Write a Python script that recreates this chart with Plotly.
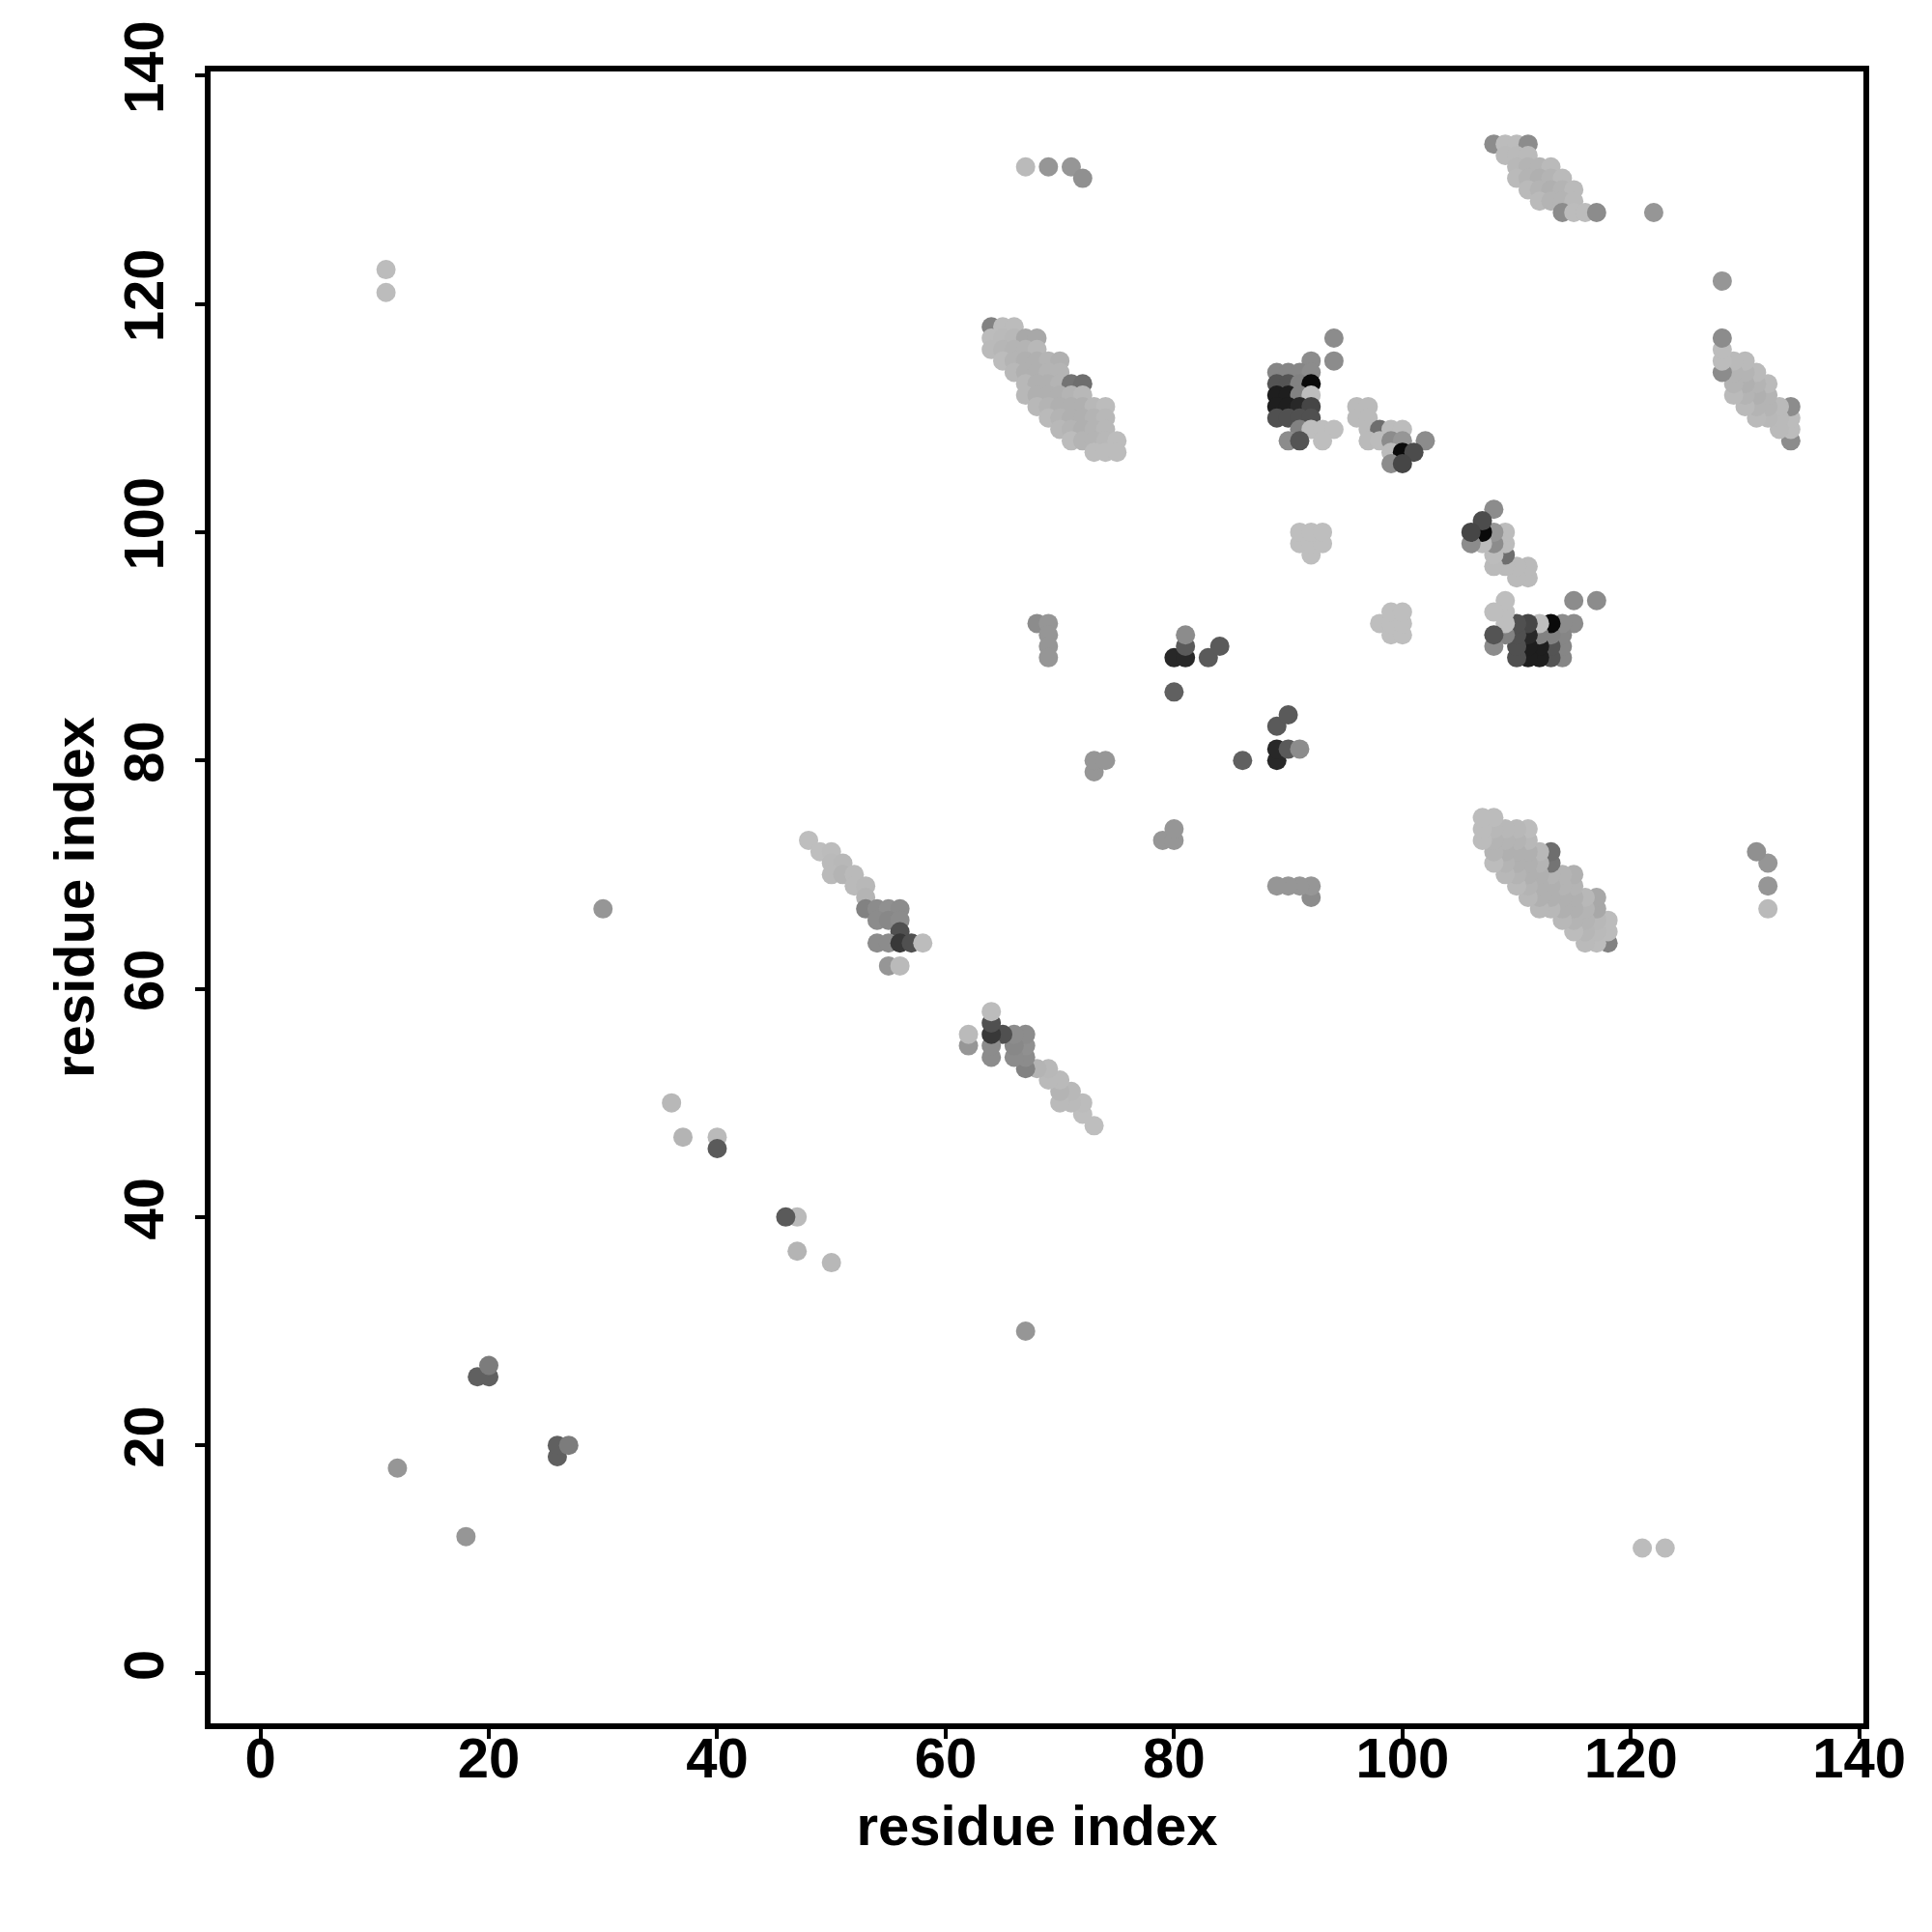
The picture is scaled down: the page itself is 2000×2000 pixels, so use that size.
import plotly.graph_objects as go

# Upper-triangle contacts (residue i < residue j); the map is symmetric.
res_i = [
    11, 11, 12, 19, 20, 20, 30, 36, 37, 40, 40,
    67, 69, 71, 72, 122,
    68, 69, 69, 69, 69,
    73, 73, 74,
    80, 80, 81, 81, 81, 83, 84,
    # cluster 48-58 / 62-73
    48, 49, 50, 50, 51, 50, 51, 52, 52, 53, 53,
    53, 54, 55, 56, 54, 55, 56, 56, 54, 55, 56, 57, 58, 55, 56,
    # cluster 64-75 / 107-118
    64, 65, 66,
    64, 65, 66, 67, 68,
    64, 65, 66, 67, 68,
    65, 66, 67, 68, 69, 70,
    66, 67, 68, 69, 70,
    67, 68, 69, 70, 71, 72,
    67, 68, 69, 70, 71, 72,
    68, 69, 70, 71, 72, 73, 74,
    69, 70, 71, 72, 73, 74,
    70, 71, 72, 73, 74,
    71, 72, 73, 74, 75,
    73, 74, 75,
    # cluster 89-94 / 107-117
    94, 92, 94,
    89, 90, 91, 92,
    89, 90, 91, 92,
    89, 90, 91, 92,
    89, 90, 91, 92,
    89, 90, 91, 92,
    91, 92, 93, 94,
    90, 91, 93,
    # cluster 96-102 / 106-111
    96, 97, 96, 97,
    97, 98, 99, 100,
    97, 98, 99, 100, 102,
    99, 100, 101,
    99, 100,
    # cluster 91-93 / 98-100
    92, 91, 92, 93, 91, 92, 93,
    # cluster 108-117 / 128-134
    108, 109, 110, 111,
    109, 110, 111,
    110, 111, 112, 113,
    110, 111, 112, 113, 114,
    111, 112, 113, 114, 115,
    112, 113, 114, 115,
    114, 115, 116, 117,
]
res_j = [
    123, 121, 18, 26, 26, 27, 67, 50, 47, 47, 46,
    132, 132, 132, 131, 128,
    92, 92, 91, 90, 89,
    79, 80, 80,
    86, 89, 89, 90, 91, 89, 90,
    73, 72, 72, 71, 71, 70, 70, 70, 69, 69, 68,
    67, 67, 67, 67, 66, 66, 66, 65, 64, 64, 64, 64, 64, 62, 62,
    118, 118, 118,
    117, 117, 117, 117, 117,
    116, 116, 116, 116, 116,
    115, 115, 115, 115, 115, 115,
    114, 114, 114, 114, 114,
    113, 113, 113, 113, 113, 113,
    112, 112, 112, 112, 112, 112,
    111, 111, 111, 111, 111, 111, 111,
    110, 110, 110, 110, 110, 110,
    109, 109, 109, 109, 109,
    108, 108, 108, 108, 108,
    107, 107, 107,
    117, 115, 115,
    114, 114, 114, 114,
    113, 113, 113, 113,
    112, 112, 112, 112,
    111, 111, 111, 111,
    110, 110, 110, 110,
    109, 109, 109, 109,
    108, 108, 108,
    111, 111, 110, 110,
    109, 109, 109, 109,
    108, 108, 108, 108, 108,
    107, 107, 107,
    106, 106,
    98, 99, 99, 99, 100, 100, 100,
    134, 134, 134, 134,
    133, 133, 133,
    132, 132, 132, 132,
    131, 131, 131, 131, 131,
    130, 130, 130, 130, 130,
    129, 129, 129, 129,
    128, 128, 128, 128,
]
prob = [
    0.06, 0.06, 0.25, 0.52, 0.52, 0.38, 0.25, 0.08, 0.1, 0.07, 0.55,
    0.07, 0.25, 0.25, 0.28, 0.25,
    0.3, 0.25, 0.25, 0.25, 0.25,
    0.25, 0.25, 0.25,
    0.52, 0.8, 0.8, 0.55, 0.3, 0.55, 0.55,
    0.05, 0.05, 0.06, 0.07, 0.08, 0.07, 0.1, 0.07, 0.07, 0.08, 0.1,
    0.35, 0.3, 0.28, 0.3, 0.3, 0.32, 0.3, 0.6, 0.3, 0.3, 0.72, 0.6, 0.06, 0.25, 0.07,
    0.35, 0.06, 0.06,
    0.06, 0.07, 0.08, 0.16, 0.16,
    0.07, 0.09, 0.1, 0.1, 0.08,
    0.06, 0.1, 0.12, 0.12, 0.1, 0.12,
    0.08, 0.12, 0.12, 0.1, 0.1,
    0.08, 0.12, 0.12, 0.1, 0.42, 0.45,
    0.08, 0.12, 0.12, 0.12, 0.1, 0.08,
    0.08, 0.1, 0.12, 0.12, 0.12, 0.08, 0.06,
    0.07, 0.1, 0.12, 0.12, 0.1, 0.08,
    0.08, 0.1, 0.12, 0.1, 0.08,
    0.06, 0.1, 0.1, 0.08, 0.06,
    0.06, 0.06, 0.06,
    0.3, 0.3, 0.3,
    0.33, 0.33, 0.33, 0.3,
    0.58, 0.58, 0.35, 0.95,
    0.85, 0.85, 0.35, 0.05,
    0.85, 0.85, 0.8, 0.65,
    0.6, 0.6, 0.6, 0.6,
    0.35, 0.05, 0.05, 0.05,
    0.3, 0.58, 0.05,
    0.07, 0.07, 0.07, 0.07,
    0.07, 0.45, 0.06, 0.06,
    0.07, 0.06, 0.3, 0.25, 0.3,
    0.06, 0.95, 0.62,
    0.3, 0.65,
    0.05, 0.05, 0.05, 0.05, 0.05, 0.05, 0.05,
    0.3, 0.06, 0.06, 0.3,
    0.07, 0.07, 0.07,
    0.08, 0.1, 0.1, 0.07,
    0.07, 0.1, 0.12, 0.1, 0.07,
    0.07, 0.1, 0.12, 0.1, 0.07,
    0.07, 0.1, 0.1, 0.07,
    0.3, 0.06, 0.06, 0.3,
]

x_ticks = [0, 20, 40, 60, 80, 100, 120, 140]
y_ticks = [0, 20, 40, 60, 80, 100, 120, 140]
axis_title = "residue index"

xs = res_i + res_j
ys = res_j + res_i
cs = prob + prob

fig = go.Figure(go.Scatter(
    x=xs, y=ys, mode="markers",
    marker=dict(size=20, color=cs, cmin=0, cmax=1,
                colorscale=[[0, "rgb(200,200,200)"], [1, "rgb(0,0,0)"]],
                line=dict(width=0)),
    hoverinfo="x+y",
))

font_b = dict(family="Liberation Sans, Arial, sans-serif", size=58, color="black", weight="bold")
axis_common = dict(
    range=[-4.36, 140.36], showgrid=False, zeroline=False,
    showline=True, linecolor="black", linewidth=5.5, mirror=True,
    ticks="outside", ticklen=10, tickwidth=4, tickcolor="black",
    tickfont=font_b,
)
fig.update_layout(
    width=2000, height=2000, autosize=False,
    margin=dict(l=210, r=79, t=66, b=224),
    paper_bgcolor="white", plot_bgcolor="white",
    showlegend=False,
    xaxis=dict(tickvals=x_ticks, ticklabelstandoff=-29,
               title=dict(text=axis_title, font=font_b, standoff=20), **axis_common),
    yaxis=dict(tickvals=y_ticks, tickangle=-90, ticklabelstandoff=10,
               title=dict(text=axis_title, font=font_b, standoff=2), **axis_common),
)
fig.write_html("out.html")
